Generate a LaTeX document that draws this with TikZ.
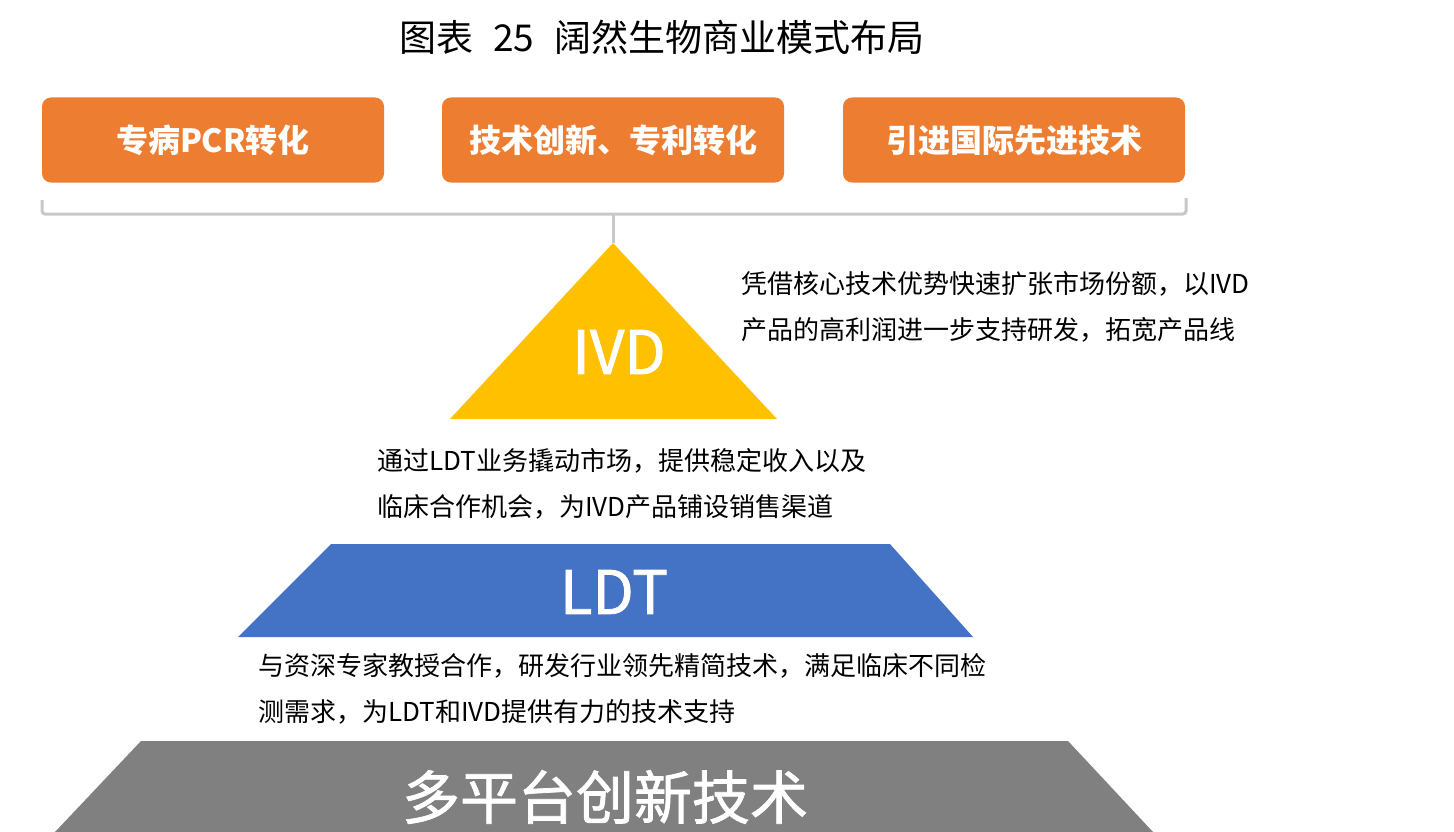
\documentclass[tikz,border=0pt]{standalone}
\usepackage{fontspec}
\setmainfont{Noto Sans CJK SC}
\newfontfamily\medfont{Noto Sans CJK SC}[FakeBold=1.3]
\definecolor{boxorange}{HTML}{ED7D31}
\definecolor{ivdyellow}{HTML}{FFC000}
\definecolor{ldtblue}{HTML}{4472C4}
\definecolor{basegray}{HTML}{808080}
\definecolor{linegray}{HTML}{C8C8C8}
\begin{document}
\begin{tikzpicture}[x=1pt,y=-1pt,
        topbox/.style={rectangle,rounded corners=9pt,fill=boxorange,minimum width=342pt,minimum height=85pt,inner sep=0,text=white,font=\fontsize{32}{38}\selectfont\bfseries},
        desc/.style={anchor=west,align=left,inner sep=0,font=\fontsize{26}{46}\selectfont},
        big/.style={text=white,inner sep=0,font=\fontsize{60}{70}\selectfont\medfont}]
    \useasboundingbox (0,0) rectangle (1454,832);
    \node[font=\fontsize{37}{40}\selectfont] (title) at (662,37) {图表\hspace{20pt}25\hspace{20pt}阔然生物商业模式布局};
    \foreach \x/\n/\t in {213/a/专病PCR转化,613/b/技术创新、专利转化,1014/c/引进国际先进技术}
        \node[topbox] (box\n) at (\x,140) {\t};
    % bracket under the boxes
    \coordinate (brl) at (42,200);
    \coordinate (brr) at (1186,198);
    \coordinate (brm) at (613,214);
    \coordinate (ivdtop) at (613,243);
    \draw[linegray,line width=3pt,rounded corners=3pt] (brl) |- (brm) -| (brr);
    \draw[linegray,line width=3pt] (brm) -- (ivdtop);
    % pyramid
    \fill[ivdyellow] (ivdtop) -- (777,419) -- (450,419) -- cycle;
    \node[big] (ivd) at (619,352) {IVD};
    \fill[ldtblue] (331,544) -- (890,544) -- (973,637) -- (238,637) -- cycle;
    \node[big] (ldt) at (614,592) {LDT};
    \fill[basegray] (141,741) -- (1068,741) -- (1153,832) -- (55,832) -- cycle;
    \node[big,font=\fontsize{58}{66}\selectfont\medfont] (tech) at (605,797) {多平台创新技术};
    % descriptions
    \node[desc] (ivdtxt) at (741,307) {凭借核心技术优势快速扩张市场份额，以IVD\\产品的高利润进一步支持研发，拓宽产品线};
    \node[desc] (ldttxt) at (377,484) {通过LDT业务撬动市场，提供稳定收入以及\\临床合作机会，为IVD产品铺设销售渠道};
    \node[desc] (techtxt) at (258,689) {与资深专家教授合作，研发行业领先精简技术，满足临床不同检\\测需求，为LDT和IVD提供有力的技术支持};
\end{tikzpicture}
\end{document}
